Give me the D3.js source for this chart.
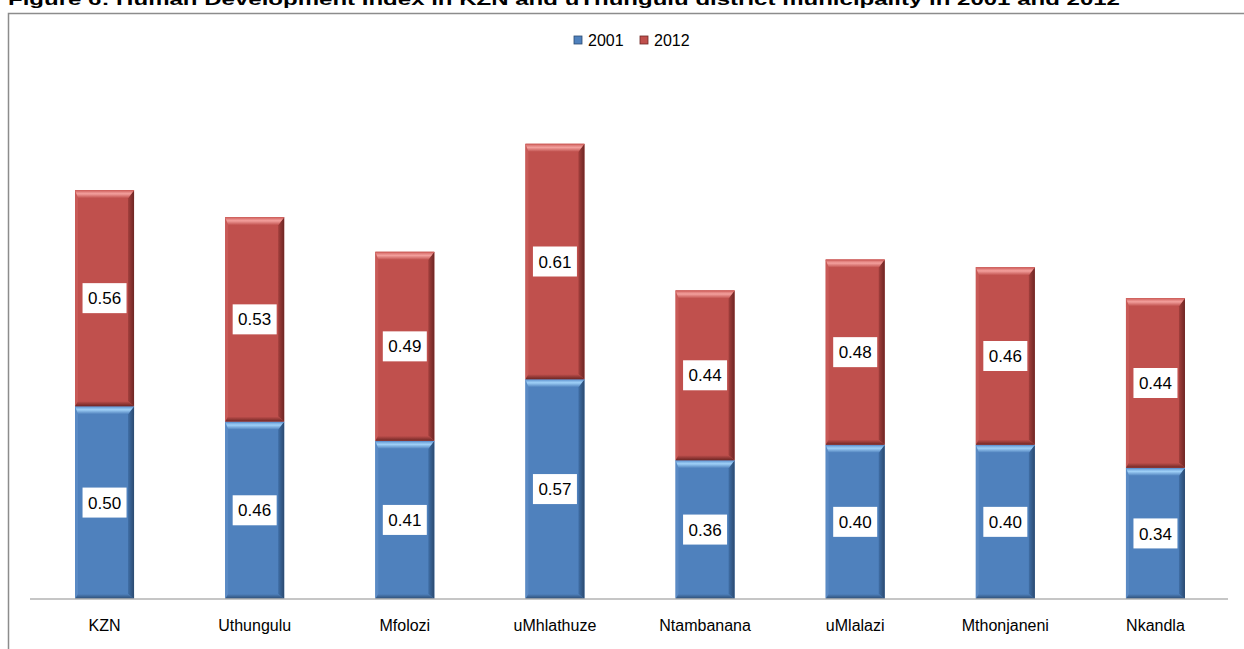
<!DOCTYPE html>
<html>
<head>
<meta charset="utf-8">
<script src="https://cdn.jsdelivr.net/npm/d3@7"></script>
<style>
  html, body { margin: 0; padding: 0; background: #fff; }
  svg { display: block; font-family: Arial, "Liberation Sans", sans-serif; }
</style>
</head>
<body>
<svg id="chart" width="1244" height="649"></svg>
<script>
const categories = ["KZN", "Uthungulu", "Mfolozi", "uMhlathuze", "Ntambanana", "uMlalazi", "Mthonjaneni", "Nkandla"];
const values2001 = [0.50, 0.46, 0.41, 0.57, 0.36, 0.40, 0.40, 0.34];
const values2012 = [0.56, 0.53, 0.49, 0.61, 0.44, 0.48, 0.46, 0.44];
const seriesNames = ["2001", "2012"];
const titleText = "Figure 6: Human Development Index in KZN and uThungulu district municipality in 2001 and 2012";

const svg = d3.select("#chart");
const W = 1244, H = 649;

// Title (partially cut off at the top, as in the reference)
svg.append("text")
  .attr("x", 8).attr("y", 5)
  .attr("font-size", 17).attr("font-weight", "bold")
  .attr("textLength", 1112).attr("lengthAdjust", "spacingAndGlyphs")
  .attr("fill", "#000")
  .text(titleText);

// Frame
svg.append("rect")
  .attr("x", 8.5).attr("y", 13.5).attr("width", W + 10).attr("height", H)
  .attr("fill", "#fff").attr("stroke", "#8c8c8c").attr("stroke-width", 1.5);

const x = d3.scaleBand().domain(categories).range([30, 1230])
  .paddingInner(0.607).paddingOuter(0.3);
const y = d3.scaleLinear().domain([0, 1.4]).range([599, 59]);

// gradients
const defs = svg.append("defs");
const colors = {
  "2001": { main: "#4f81bd", light: "#9fd0f7", lightEdge: "#5f93d0", dark: "#2b4a70", mid: "#3f6ea6", left: "#5a8ac4" },
  "2012": { main: "#c0504d", light: "#f3a09d", lightEdge: "#d0625f", dark: "#6e2624", mid: "#a23f3c", left: "#c85a57" }
};
seriesNames.forEach(s => {
  const c = colors[s];
  const gTop = defs.append("linearGradient").attr("id", "top" + s)
    .attr("x1", 0).attr("y1", 0).attr("x2", 0).attr("y2", 1);
  gTop.append("stop").attr("offset", "0%").attr("stop-color", c.lightEdge);
  gTop.append("stop").attr("offset", "45%").attr("stop-color", c.light);
  gTop.append("stop").attr("offset", "100%").attr("stop-color", c.main);
  const gRight = defs.append("linearGradient").attr("id", "right" + s)
    .attr("x1", 0).attr("y1", 0).attr("x2", 1).attr("y2", 0);
  gRight.append("stop").attr("offset", "0%").attr("stop-color", c.mid);
  gRight.append("stop").attr("offset", "100%").attr("stop-color", c.dark);
  const gBot = defs.append("linearGradient").attr("id", "bot" + s)
    .attr("x1", 0).attr("y1", 0).attr("x2", 0).attr("y2", 1);
  gBot.append("stop").attr("offset", "0%").attr("stop-color", c.main);
  gBot.append("stop").attr("offset", "100%").attr("stop-color", c.dark);
});

// stacked data
const rows = categories.map((cat, i) => ({ cat, "2001": values2001[i], "2012": values2012[i] }));
const stacked = d3.stack().keys(seriesNames)(rows);

const bev = 8, bevR = 6, bevL = 3, bevB = 5;
stacked.forEach(layer => {
  const s = layer.key;
  const c = colors[s];
  const g = svg.append("g");
  layer.forEach(d => {
    const x0 = x(d.data.cat), x1 = x0 + x.bandwidth();
    const yt = y(d[1]), yb = y(d[0]);
    const bg = g.append("g");
    bg.append("rect").attr("x", x0).attr("y", yt).attr("width", x1 - x0).attr("height", yb - yt)
      .attr("fill", c.main);
    // left bevel
    bg.append("polygon").attr("points", [[x0, yt], [x0 + bevL, yt + bev], [x0 + bevL, yb - bevB], [x0, yb]].join(" "))
      .attr("fill", c.left);
    // right bevel
    bg.append("polygon").attr("points", [[x1, yt], [x1 - bevR, yt + bev], [x1 - bevR, yb - bevB], [x1, yb]].join(" "))
      .attr("fill", `url(#right${s})`);
    // bottom bevel
    bg.append("polygon").attr("points", [[x0, yb], [x0 + bevL, yb - bevB], [x1 - bevR, yb - bevB], [x1, yb]].join(" "))
      .attr("fill", `url(#bot${s})`);
    // top bevel
    bg.append("polygon").attr("points", [[x0, yt], [x1, yt], [x1 - bevR, yt + bev], [x0 + bevL, yt + bev]].join(" "))
      .attr("fill", `url(#top${s})`);
    // edges
    bg.append("line").attr("x1", x0).attr("x2", x1).attr("y1", yt + 0.5).attr("y2", yt + 0.5)
      .attr("stroke", c.lightEdge).attr("stroke-width", 1);
  });
});

// value labels
stacked.forEach(layer => {
  const s = layer.key;
  layer.forEach(d => {
    const cx = x(d.data.cat) + x.bandwidth() / 2;
    const cy = (y(d[0]) + y(d[1])) / 2;
    const lg = svg.append("g").attr("transform", `translate(${cx},${cy})`);
    lg.append("rect").attr("x", -22).attr("y", -15).attr("width", 44).attr("height", 30).attr("fill", "#fff");
    lg.append("text").attr("text-anchor", "middle").attr("dy", "0.36em")
      .attr("font-size", 17).attr("fill", "#000")
      .text(d3.format(".2f")(d.data[s]));
  });
});

// x axis
const axis = svg.append("g").attr("transform", "translate(0,599)")
  .call(d3.axisBottom(x).tickSize(0).tickPadding(21));
axis.select(".domain").attr("stroke", "#b3b3b3").attr("stroke-width", 1.5)
  .attr("d", "M30,0H1228");
axis.selectAll("text").attr("font-size", 16).attr("fill", "#000")
  .attr("font-family", "Arial, 'Liberation Sans', sans-serif");

// legend
const legendX = [574, 640];
seriesNames.forEach((s, i) => {
  const lg = svg.append("g").attr("transform", `translate(${legendX[i]},36)`);
  lg.append("rect").attr("width", 8).attr("height", 8).attr("fill", colors[s].main)
    .attr("stroke", colors[s].dark).attr("stroke-width", 0.8);
  lg.append("text").attr("x", 14).attr("y", 4).attr("dy", "0.36em")
    .attr("font-size", 16).attr("fill", "#000").text(s);
});
</script>
</body>
</html>
